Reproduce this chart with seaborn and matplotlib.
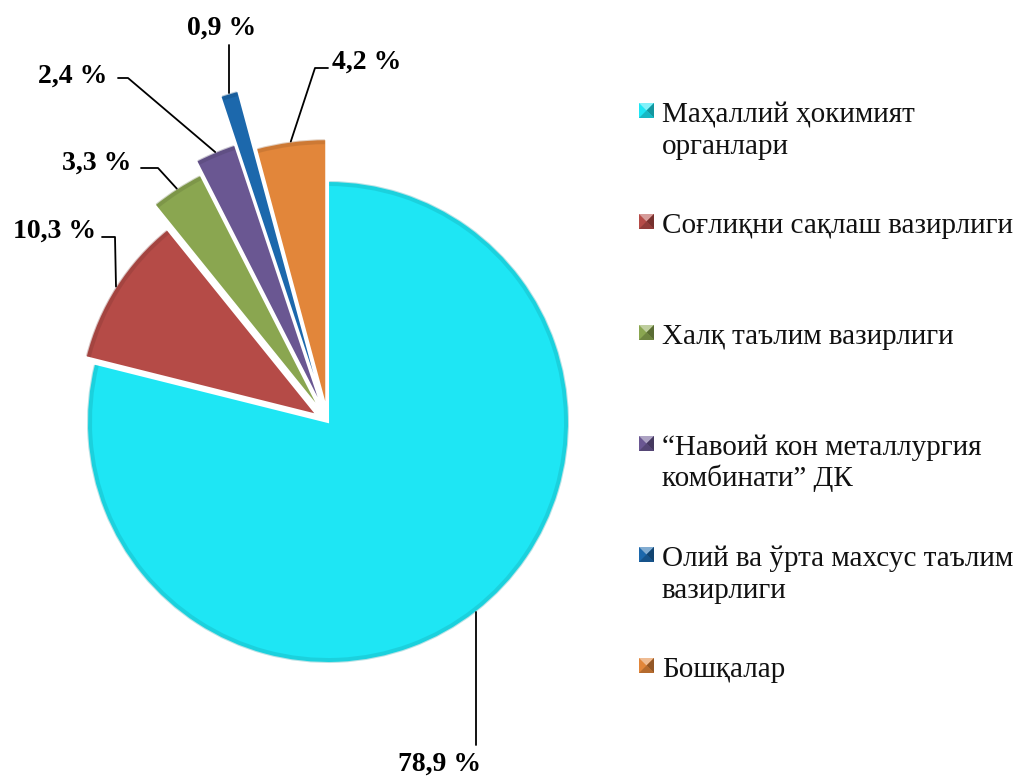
import numpy as np
import matplotlib
matplotlib.use('Agg')
import matplotlib.pyplot as plt
from matplotlib.patches import Polygon, Wedge
import seaborn as sns

sns.set_theme(style='white')
plt.rcParams['font.family'] = ['Liberation Serif', 'DejaVu Serif']

# 데이터
labels = ['Маҳаллий ҳокимият\nорганлари',
          'Соғлиқни сақлаш вазирлиги',
          'Халқ таълим вазирлиги',
          '“Навоий кон металлургия\nкомбинати” ДК',
          'Олий ва ўрта махсус таълим\nвазирлиги',
          'Бошқалар']
shares = [78.9, 10.3, 3.3, 2.4, 0.9, 4.2]
pct_text = ['78,9 %', '10,3 %', '3,3 %', '2,4 %', '0,9 %', '4,2 %']

colors = ['#1EE6F4', '#B54B47', '#8AA650', '#6A5792', '#1C68AC', '#E2863A']

# 레이아웃 (픽셀 좌표, 이미지 기준 y는 위에서 아래)
W, H = 1019, 776
R = 241
center = (328, H - 422)
explode = [0, 13, 13, 13, 13, 13]
scale = [1.0, 0.99, 1.10, 1.16, 1.37, 1.12]
label_pos = [(440, 764), (55, 231), (97, 163), (73, 76), (222, 28), (367, 62)]
elbows = [[(None, 745)],
          [(115, 237), (102, 237)],
          [(158, 168), (141, 168)],
          [(128, 78), (118, 78)],
          [(None, 45)],
          [(315, 68), (328, 68)]]
legend_base = [122, 233, 344, 455, 566, 677]
line_gap = 31.5

fig = plt.figure(figsize=(W / 100, H / 100), dpi=100)
ax = fig.add_axes([0, 0, 1, 1])

wedges, _ = ax.pie(shares, colors=colors, startangle=90, counterclock=False,
                   radius=R, center=center, explode=explode,
                   wedgeprops=dict(edgecolor='white', linewidth=1.5))
ax.set_xlim(0, W)
ax.set_ylim(0, H)
ax.set_aspect('equal')
ax.axis('off')

for w, s in zip(wedges, scale):
    w.set_radius(R * s)

# 입체감 약간: 바깥 테두리 어둡게
for w, c in zip(wedges, colors):
    dark = tuple(v * 0.7 for v in matplotlib.colors.to_rgb(c))
    rim = Wedge(w.center, w.r, w.theta1 + 0.3, w.theta2 - 0.3, width=5,
                facecolor=dark, edgecolor='none', alpha=0.3)
    ax.add_patch(rim)

# 퍼센트 라벨 + 지시선
for w, txt, pos, el in zip(wedges, pct_text, label_pos, elbows):
    th = np.deg2rad((w.theta1 + w.theta2) / 2)
    ax_x = w.center[0] + w.r * np.cos(th)
    ax_y = w.center[1] + w.r * np.sin(th)
    xs = [ax_x]
    ys = [ax_y]
    for px, py in el:
        xs.append(ax_x if px is None else px)
        ys.append(H - py)
    ax.plot(xs, ys, color='black', lw=1.3)
    ax.text(pos[0], H - pos[1], txt, fontsize=20, fontweight='bold',
            ha='center', va='center', color='black')

# 범례 (수동 배치, 피라미드 모양 마커)
for lab, c, yb in zip(labels, colors, legend_base):
    rgb = np.array(matplotlib.colors.to_rgb(c))
    light = tuple(rgb + (1 - rgb) * 0.45)
    dark = tuple(rgb * 0.65)
    x0, x1 = 639, 654
    y1 = H - yb + 19
    y0 = y1 - 15
    xm, ym = (x0 + x1) / 2, (y0 + y1) / 2
    ax.add_patch(Polygon([(x0, y0), (x1, y0), (x1, y1), (x0, y1)], closed=True,
                         facecolor=c, edgecolor='none'))
    ax.add_patch(Polygon([(x0, y1), (x1, y1), (xm, ym)], closed=True,
                         facecolor=light, edgecolor='none'))
    ax.add_patch(Polygon([(x1, y1), (x1, y0), (xm, ym)], closed=True,
                         facecolor=dark, edgecolor='none'))
    ax.add_patch(Polygon([(x0, y0), (x1, y0), (xm, ym)], closed=True,
                         facecolor=tuple(rgb * 0.8), edgecolor='none'))
    for k, line in enumerate(lab.split('\n')):
        ax.text(662, H - yb - k * line_gap, line, fontsize=21, ha='left',
                va='baseline', color='#111111')

fig.savefig('out.png', dpi=100)
